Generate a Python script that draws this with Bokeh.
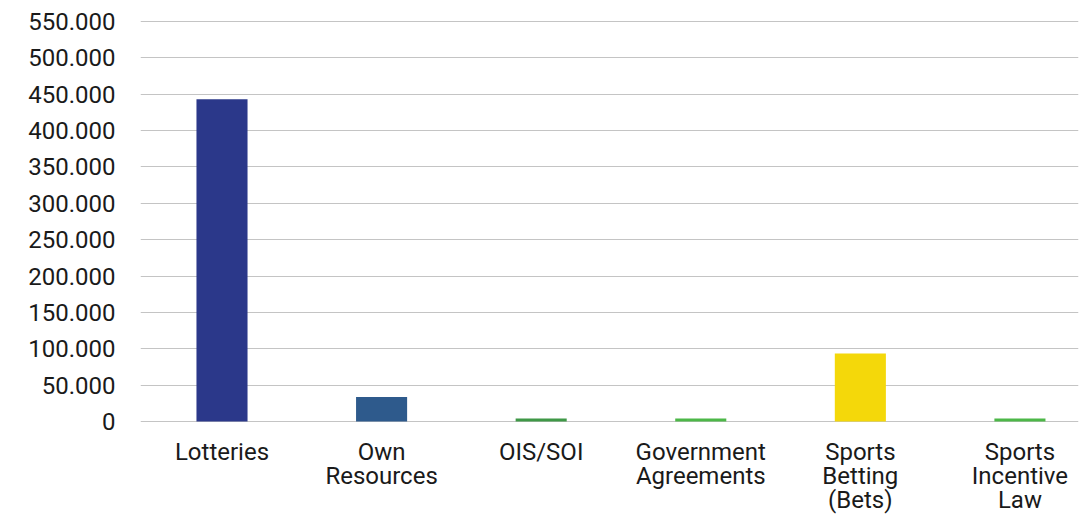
from bokeh.plotting import figure
from bokeh.models import Range1d, FixedTicker, ColumnDataSource
from bokeh.embed import file_html
from bokeh.resources import INLINE

categories = ["Lotteries", "Own\nResources", "OIS/SOI", "Government\nAgreements",
              "Sports\nBetting\n(Bets)", "Sports\nIncentive\nLaw"]
values = [443000, 33500, 4000, 4000, 93500, 4000]
colors = ["#2B388A", "#2E5A8C", "#3F9847", "#4DB748", "#F4D80A", "#4DB748"]
y_ticks = [0, 50000, 100000, 150000, 200000, 250000, 300000, 350000, 400000, 450000, 500000, 550000]
y_tick_labels = ["0", "50.000", "100.000", "150.000", "200.000", "250.000", "300.000",
                 "350.000", "400.000", "450.000", "500.000", "550.000"]

idx = list(range(len(categories)))
src = ColumnDataSource(dict(x=idx, top=values, color=colors))

FONT = "Roboto"
TEXT = "#1a1a1a"

p = figure(output_backend="svg", toolbar_location=None,
           frame_width=938, frame_height=402,
           min_border_left=140, min_border_right=10, min_border_top=20, min_border_bottom=94,
           x_range=Range1d(-0.5107, 5.367), y_range=Range1d(-1500, 551500),
           background_fill_color="white", border_fill_color="white")
p.outline_line_color = None

p.vbar(x="x", top="top", bottom=0, width=0.32, color="color", source=src, line_color=None)

p.xgrid.grid_line_color = None
p.ygrid.grid_line_color = "#c4c4c4"
p.ygrid.grid_line_width = 1
p.ygrid.ticker = FixedTicker(ticks=y_ticks)

p.yaxis.ticker = FixedTicker(ticks=y_ticks)
p.yaxis.major_label_overrides = {t: l for t, l in zip(y_ticks, y_tick_labels)}
p.xaxis.ticker = FixedTicker(ticks=idx)
p.xaxis.major_label_overrides = {i: c for i, c in zip(idx, categories)}

for ax in (p.xaxis[0], p.yaxis[0]):
    ax.axis_line_color = None
    ax.major_tick_line_color = None
    ax.minor_tick_line_color = None
    ax.major_tick_out = 0
    ax.major_tick_in = 0
    ax.major_label_text_font = FONT
    ax.major_label_text_font_size = "24px"
    ax.major_label_text_color = TEXT
    ax.major_label_text_line_height = 0.86

p.yaxis.major_label_standoff = 25
p.xaxis.major_label_standoff = 15

open("out.html", "w").write(file_html(p, INLINE))
